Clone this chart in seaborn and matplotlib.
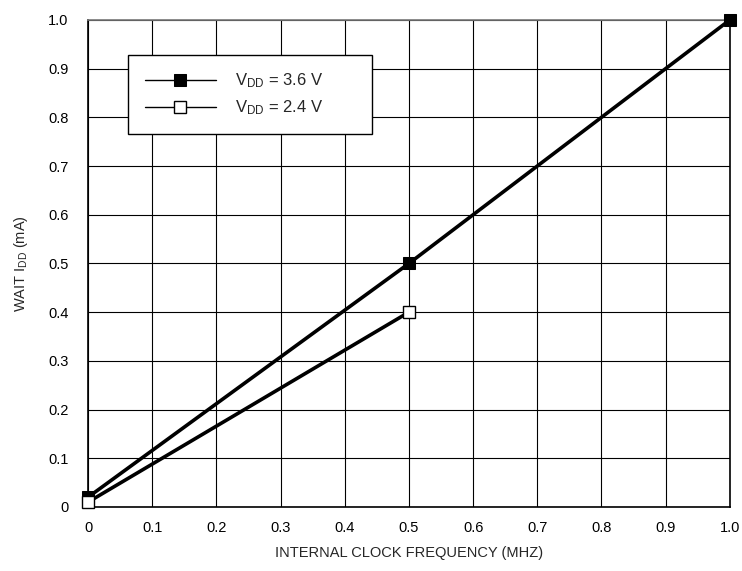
import pandas as pd
import seaborn as sns
import matplotlib.pyplot as plt

# --- Data ---
freq_36 = [0.0, 0.5, 1.0]
idd_36 = [0.02, 0.5, 1.0]
freq_24 = [0.0, 0.5]
idd_24 = [0.01, 0.4]
x_ticks = [0, 0.1, 0.2, 0.3, 0.4, 0.5, 0.6, 0.7, 0.8, 0.9, 1.0]
y_ticks = [0, 0.1, 0.2, 0.3, 0.4, 0.5, 0.6, 0.7, 0.8, 0.9, 1.0]
x_labels = ['0', '0.1', '0.2', '0.3', '0.4', '0.5', '0.6', '0.7', '0.8', '0.9', '1.0']
y_labels = ['0', '0.1', '0.2', '0.3', '0.4', '0.5', '0.6', '0.7', '0.8', '0.9', '1.0']

df_36 = pd.DataFrame({'freq': freq_36, 'idd': idd_36})
df_24 = pd.DataFrame({'freq': freq_24, 'idd': idd_24})

sns.set_style('white')
plt.rcParams['font.family'] = ['Liberation Sans', 'DejaVu Sans']
plt.rcParams['mathtext.fontset'] = 'custom'
plt.rcParams['mathtext.rm'] = 'Liberation Sans'
plt.rcParams['mathtext.it'] = 'Liberation Sans'

fig = plt.figure(figsize=(7.42, 5.71), dpi=100)
ax = fig.add_axes([0.1186, 0.1121, 0.865, 0.853])

sns.lineplot(data=df_36, x='freq', y='idd', ax=ax, color='black', linewidth=2.6,
             marker='s', markersize=9, markerfacecolor='black', markeredgecolor='black',
             label=r'V$_{\mathrm{DD}}$ = 3.6 V', clip_on=False, zorder=5)
sns.lineplot(data=df_24, x='freq', y='idd', ax=ax, color='black', linewidth=2.6,
             marker='s', markersize=9, markerfacecolor='white', markeredgecolor='black',
             markeredgewidth=1.0, label=r'V$_{\mathrm{DD}}$ = 2.4 V', clip_on=False, zorder=5)

ax.set_xlim(0, 1.0)
ax.set_ylim(0, 1.0)
ax.set_xticks(x_ticks)
ax.set_xticklabels(x_labels)
ax.set_yticks(y_ticks)
ax.set_yticklabels(y_labels)
ax.grid(True, color='black', linewidth=0.8)
ax.tick_params(axis='both', direction='inout', length=14, width=1.2, labelsize=10.5,
               colors='black')
ax.tick_params(axis='x', pad=3)
ax.tick_params(axis='y', pad=7)
for side in ['left', 'bottom', 'right']:
    ax.spines[side].set_color('black')
    ax.spines[side].set_linewidth(1.2)
ax.spines['top'].set_color('#777777')
ax.spines['top'].set_linewidth(1.2)

ax.set_xlabel('INTERNAL CLOCK FREQUENCY (MHZ)', fontsize=10.5, labelpad=8)
ax.set_ylabel(r'WAIT I$_{\mathrm{DD}}$ (mA)', fontsize=10.5, labelpad=13)

# legend box stretched to the width seen in the reference
leg = ax.legend(loc='upper left', bbox_to_anchor=(0.0623, 0.928, 0.380, 0.0), mode='expand',
                frameon=True, fancybox=False, edgecolor='black', framealpha=1, fontsize=12,
                handlelength=4.3, borderpad=1.0, labelspacing=0.5, handletextpad=1.15,
                borderaxespad=0)
leg.get_frame().set_linewidth(1.0)
for h in leg.get_lines():
    h.set_linewidth(1.0)

fig.savefig('out.png', dpi=100)
plt.close()
